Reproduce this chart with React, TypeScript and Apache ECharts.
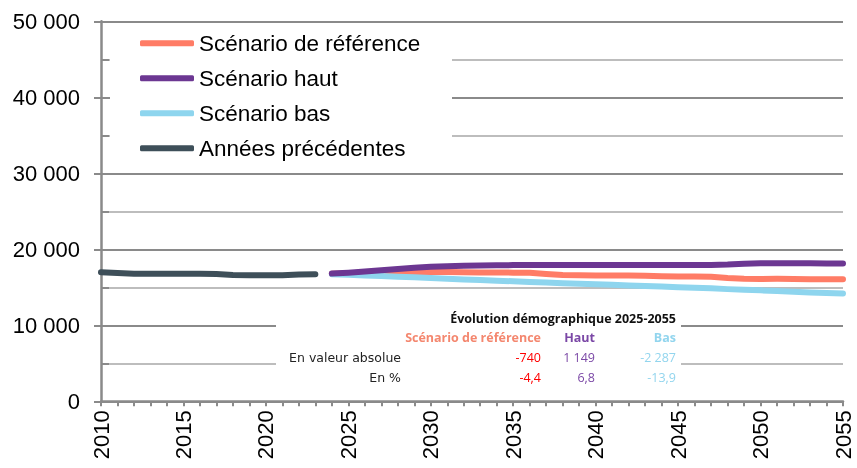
import React, { useEffect, useRef } from "react";
import * as echarts from "echarts";

const histYears = [2010, 2011, 2012, 2013, 2014, 2015, 2016, 2017, 2018, 2019, 2020, 2021, 2022, 2023];
const histValues = [16970, 16880, 16790, 16780, 16780, 16780, 16780, 16750, 16630, 16580, 16580, 16600, 16680, 16720];

const scenarioYears = [
  2024, 2025, 2026, 2027, 2028, 2029, 2030, 2031, 2032, 2033, 2034, 2035, 2036, 2037, 2038, 2039,
  2040, 2041, 2042, 2043, 2044, 2045, 2046, 2047, 2048, 2049, 2050, 2051, 2052, 2053, 2054, 2055,
];
const refValues = [
  16780, 16850, 16920, 16970, 17000, 17010, 17010, 17000, 16980, 16960, 16940, 16930, 16910, 16760, 16620, 16580,
  16560, 16550, 16540, 16510, 16460, 16420, 16420, 16400, 16220, 16120, 16100, 16110, 16090, 16060, 16050, 16050,
];
const hautValues = [
  16800, 16920, 17080, 17250, 17420, 17580, 17700, 17780, 17830, 17870, 17890, 17920, 17930, 17940, 17940, 17940,
  17940, 17940, 17940, 17940, 17940, 17940, 17940, 17950, 18000, 18100, 18160, 18160, 18150, 18150, 18140, 18140,
];
const basValues = [
  16720, 16640, 16560, 16480, 16400, 16320, 16220, 16130, 16040, 15950, 15870, 15790, 15700, 15620, 15540, 15460,
  15390, 15320, 15250, 15170, 15100, 15020, 14950, 14860, 14760, 14670, 14600, 14520, 14430, 14320, 14240, 14200,
];

const seriesNames = ["Scénario de référence", "Scénario haut", "Scénario bas", "Années précédentes"];
const seriesColors = ["#FF7C66", "#6C3792", "#8ED5EE", "#3E4F59"];

const tableTitle = "Évolution démographique 2025-2055";
const tableHeaders = ["Scénario de référence", "Haut", "Bas"];
const tableRowLabels = ["En valeur absolue", "En %"];
const tableAbs = ["-740", "1 149", "-2 287"];
const tablePct = ["-4,4", "6,8", "-13,9"];
const headerColors = ["#F4876F", "#7B48A6", "#92D5EE"];
const valueColors = ["#FF0000", "#7B48A6", "#92D5EE"];

const fmt = (v: number) => String(v).replace(/\B(?=(\d{3})+(?!\d))/g, " ");

export default function App() {
  const ref = useRef<HTMLDivElement>(null);
  useEffect(() => {
    if (!ref.current) return;
    const chart = echarts.init(ref.current, null, { renderer: "svg" });
    const pair = (ys: number[], vs: number[]) => ys.map((y, i) => [y, vs[i]]);
    const lineSeries = (name: string, color: string, data: number[][]) => ({
      name,
      type: "line",
      data,
      showSymbol: false,
      symbol: "none",
      yAxisIndex: 0,
      lineStyle: { color, width: 6, cap: "round", join: "round" },
      itemStyle: { color },
      z: 3,
    });
    const font = "Liberation Sans, Arial, sans-serif";
    const tFont = "Open Sans, Noto Sans, sans-serif";
    const colX = [541, 595, 676];
    const graphics: any[] = [
      { type: "rect", z: 1, shape: { x: 110, y: 23, width: 342, height: 145 }, style: { fill: "#fff" } },
      { type: "rect", z: 1, shape: { x: 276, y: 299, width: 405, height: 97 }, style: { fill: "#fff" } },
      {
        type: "text", z: 5, x: 676, y: 318,
        style: { text: tableTitle, fill: "#111", font: `bold 12.5px ${tFont}`, align: "right", verticalAlign: "middle" },
      },
    ];
    tableHeaders.forEach((h, i) =>
      graphics.push({
        type: "text", z: 5, x: colX[i], y: 337,
        style: { text: h, fill: headerColors[i], font: `bold 12.5px ${tFont}`, align: "right", verticalAlign: "middle" },
      })
    );
    tableRowLabels.forEach((l, r) =>
      graphics.push({
        type: "text", z: 5, x: 401, y: 357 + r * 20,
        style: { text: l, fill: "#222", font: `12.5px DejaVu Sans, sans-serif`, align: "right", verticalAlign: "middle" },
      })
    );
    [tableAbs, tablePct].forEach((row, r) =>
      row.forEach((v, i) =>
        graphics.push({
          type: "text", z: 5, x: colX[i], y: 357 + r * 20,
          style: { text: v, fill: valueColors[i], font: `12.5px ${tFont}`, align: "right", verticalAlign: "middle" },
        })
      )
    );
    const axisGray = "#8a8a8a";
    chart.setOption({
      animation: false,
      grid: { left: 101, right: 14, top: 21.3, bottom: 66.7, containLabel: false },
      legend: {
        orient: "vertical",
        left: 130,
        top: 21.7,
        padding: [10, 10, 10, 10],
        data: seriesNames,
        icon: "roundRect",
        itemWidth: 54,
        itemHeight: 6,
        itemGap: 12,
        selectedMode: false,
        textStyle: { fontFamily: font, fontSize: 22.5, lineHeight: 22, color: "#000" },
        z: 6,
      },
      xAxis: {
        type: "value",
        min: 2010,
        max: 2055,
        interval: 5,
        axisLine: { show: true, onZero: false, lineStyle: { color: axisGray, width: 2.5 } },
        axisTick: { show: true, length: 5, lineStyle: { color: axisGray, width: 2 } },
        minorTick: { show: true, splitNumber: 5, length: 5, lineStyle: { color: axisGray, width: 2 } },
        splitLine: { show: false },
        axisLabel: {
          rotate: 90,
          margin: 9,
          fontFamily: font,
          fontSize: 22,
          color: "#000",
          formatter: (v: number) => String(v),
        },
      },
      yAxis: [
        {
          type: "value",
          position: "left",
          min: 0,
          max: 50000,
          interval: 10000,
          axisLine: { show: true, onZero: false, lineStyle: { color: axisGray, width: 2.5 } },
          axisTick: { show: true, inside: true, length: 8, lineStyle: { color: axisGray, width: 2 } },
          minorTick: { show: true, splitNumber: 2, length: 8, lineStyle: { color: axisGray, width: 2 } },
          splitLine: { show: true, lineStyle: { color: axisGray, width: 2 } },
          minorSplitLine: { show: true, lineStyle: { color: "#bdbdbd", width: 2 } },
          axisLabel: {
            margin: 21,
            fontFamily: font,
            fontSize: 22,
            color: "#000",
            formatter: (v: number) => fmt(v),
          },
        },
        {
          type: "value",
          position: "left",
          offset: 0,
          min: 0,
          max: 50000,
          interval: 10000,
          axisLine: { show: false },
          axisTick: { show: true, inside: false, length: 7, lineStyle: { color: axisGray, width: 2 } },
          splitLine: { show: false },
          axisLabel: { show: false },
        },
      ],
      graphic: graphics,
      series: [
        lineSeries(seriesNames[0], seriesColors[0], pair(scenarioYears, refValues)),
        lineSeries(seriesNames[2], seriesColors[2], pair(scenarioYears, basValues)),
        lineSeries(seriesNames[1], seriesColors[1], pair(scenarioYears, hautValues)),
        lineSeries(seriesNames[3], seriesColors[3], pair(histYears, histValues)),
      ],
    });
    return () => chart.dispose();
  }, []);
  return <div ref={ref} style={{ position: "fixed", left: 0, top: 0, width: 857, height: 468 }} />;
}
